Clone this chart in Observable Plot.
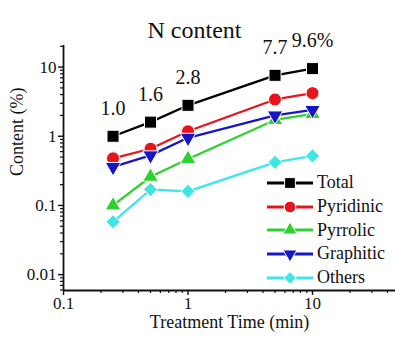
<!DOCTYPE html>
<html>
<head>
<meta charset="utf-8">
<script src="https://cdn.jsdelivr.net/npm/d3@7"></script>
<script src="https://cdn.jsdelivr.net/npm/@observablehq/plot@0.6"></script>
<style>
  html, body { margin: 0; padding: 0; background: #fff; }
  #wrap { position: relative; width: 395px; height: 340px; overflow: hidden; }
  #legend { position: absolute; left: 266px; top: 171px; }
  .row { display: flex; align-items: center; height: 23.7px; font-family: 'Liberation Serif', serif; font-size: 18px; color: #111; white-space: nowrap; }
  .row svg { margin-right: 3px; flex: none; }
</style>
</head>
<body>
<div id="wrap"><div id="legend"></div></div>
<script>
const times = [0.25, 0.5, 1, 5, 10];
const seriesNames = ["Total", "Pyridinic", "Pyrrolic", "Graphitic", "Others"];
const total     = [1.0, 1.6, 2.8, 7.6, 9.5];
const pyridinic = [0.48, 0.66, 1.18, 3.4, 4.2];
const pyrrolic  = [0.10, 0.26, 0.47, 1.72, 2.1];
const graphitic = [0.36, 0.53, 0.95, 2.0, 2.4];
const others    = [0.058, 0.17, 0.16, 0.42, 0.52];
const totalLabels = ["1.0", "1.6", "2.8", "7.7", "9.6%"];
const seriesColors = ["#000000", "#e8141c", "#2ed12e", "#1616c8", "#3ee6e6"];
const xTicks = [0.1, 1, 10];
const yTicks = [0.01, 0.1, 1, 10];

const triangleDown = {
  draw(context, size) {
    const y = -Math.sqrt(size / (Math.sqrt(3) * 3));
    context.moveTo(0, -y * 2);
    context.lineTo(-Math.sqrt(3) * y, y);
    context.lineTo(Math.sqrt(3) * y, y);
    context.closePath();
  }
};
const symbols = ["square", "circle", "triangle", triangleDown, "diamond2"];
const sizes = [6.8, 6.5, 5.8, 5.8, 6.4];
const values = [total, pyridinic, pyrrolic, graphitic, others];

const series = seriesNames.map((name, k) => ({
  name, color: seriesColors[k], symbol: symbols[k], r: sizes[k],
  data: times.map((t, i) => ({t, v: values[k][i]}))
}));

const xDomain = [0.1, 46.4];
const yDomain = [0.0059, 20.5];
const FF = "'Liberation Serif', serif";

function minorTicks(lo, hi) {
  const out = [];
  for (let e = -4; e <= 2; e++) for (let m = 2; m <= 9; m++) {
    const v = m * Math.pow(10, e);
    if (v >= lo && v <= hi) out.push(v);
  }
  return out;
}
const fmt = d => String(d);

const marks = [
  Plot.axisX({ticks: minorTicks(...xDomain), tickSize: 3, tickFormat: () => "", label: null, strokeWidth: 1.2}),
  Plot.axisX({ticks: xTicks, tickSize: 5, tickPadding: 1, tickFormat: fmt, fontSize: 17, fontFamily: FF, fontVariant: "normal", strokeWidth: 1.4, label: null}),
  Plot.axisY({ticks: minorTicks(...yDomain), tickSize: 3, tickFormat: () => "", label: null, strokeWidth: 1.2}),
  Plot.axisY({ticks: yTicks, tickSize: 5, tickPadding: 2, tickFormat: fmt, fontSize: 17, fontFamily: FF, fontVariant: "normal", strokeWidth: 1.4, label: null}),
  Plot.ruleX([xDomain[0]], {stroke: "#111", strokeWidth: 1.8}),
  Plot.ruleY([yDomain[0]], {stroke: "#111", strokeWidth: 1.8}),
  Plot.text(["Treatment Time (min)"], {frameAnchor: "bottom", dy: 37, fontSize: 18, fontFamily: FF, fill: "#111"}),
  Plot.text(["Content (%)"], {frameAnchor: "left", dx: -46, dy: 8, rotate: -90, fontSize: 18, fontFamily: FF, fill: "#111"}),
];
for (const s of series) {
  marks.push(Plot.line(s.data, {x: "t", y: "v", stroke: s.color, strokeWidth: 2.3}));
  marks.push(Plot.dot(s.data, {x: "t", y: "v", symbol: s.symbol, r: s.r, fill: s.color, stroke: "white", strokeWidth: 1}));
}
marks.push(Plot.text(times.map((t, i) => i), {
  x: i => times[i], y: i => total[i], text: i => totalLabels[i],
  dy: -28, fontSize: 20, fontFamily: FF, fill: "#111"
}));
marks.push(Plot.text(["N content"], {frameAnchor: "top-left", dx: 84, dy: -25, fontSize: 24, fontFamily: FF, fill: "#111"}));

const chart = Plot.plot({
  width: 395,
  height: 340,
  marginLeft: 63,
  marginRight: 0,
  marginTop: 45,
  marginBottom: 50,
  style: {fontFamily: FF, fontSize: "17px", color: "#111", background: "white"},
  x: {type: "log", domain: xDomain},
  y: {type: "log", domain: yDomain},
  marks
});
const wrap = document.getElementById("wrap");
wrap.insertBefore(chart, wrap.firstChild);

// legend
const legend = document.getElementById("legend");
const symMap = {square: d3.symbolSquare, circle: d3.symbolCircle, triangle: d3.symbolTriangle, diamond2: d3.symbolDiamond2};
for (const s of series) {
  const row = document.createElement("div");
  row.className = "row";
  const sw = d3.create("svg").attr("width", 48).attr("height", 20);
  sw.append("line").attr("x1", 1).attr("x2", 47).attr("y1", 10).attr("y2", 10)
    .attr("stroke", s.color).attr("stroke-width", 3);
  const symType = typeof s.symbol === "string" ? symMap[s.symbol] : s.symbol;
  sw.append("path").attr("transform", "translate(24,10)")
    .attr("d", d3.symbol(symType, Math.PI * s.r * s.r * 0.8)())
    .attr("fill", s.color).attr("stroke", "white").attr("stroke-width", 1);
  row.appendChild(sw.node());
  const span = document.createElement("span");
  span.textContent = s.name;
  row.appendChild(span);
  legend.appendChild(row);
}
</script>
</body>
</html>
